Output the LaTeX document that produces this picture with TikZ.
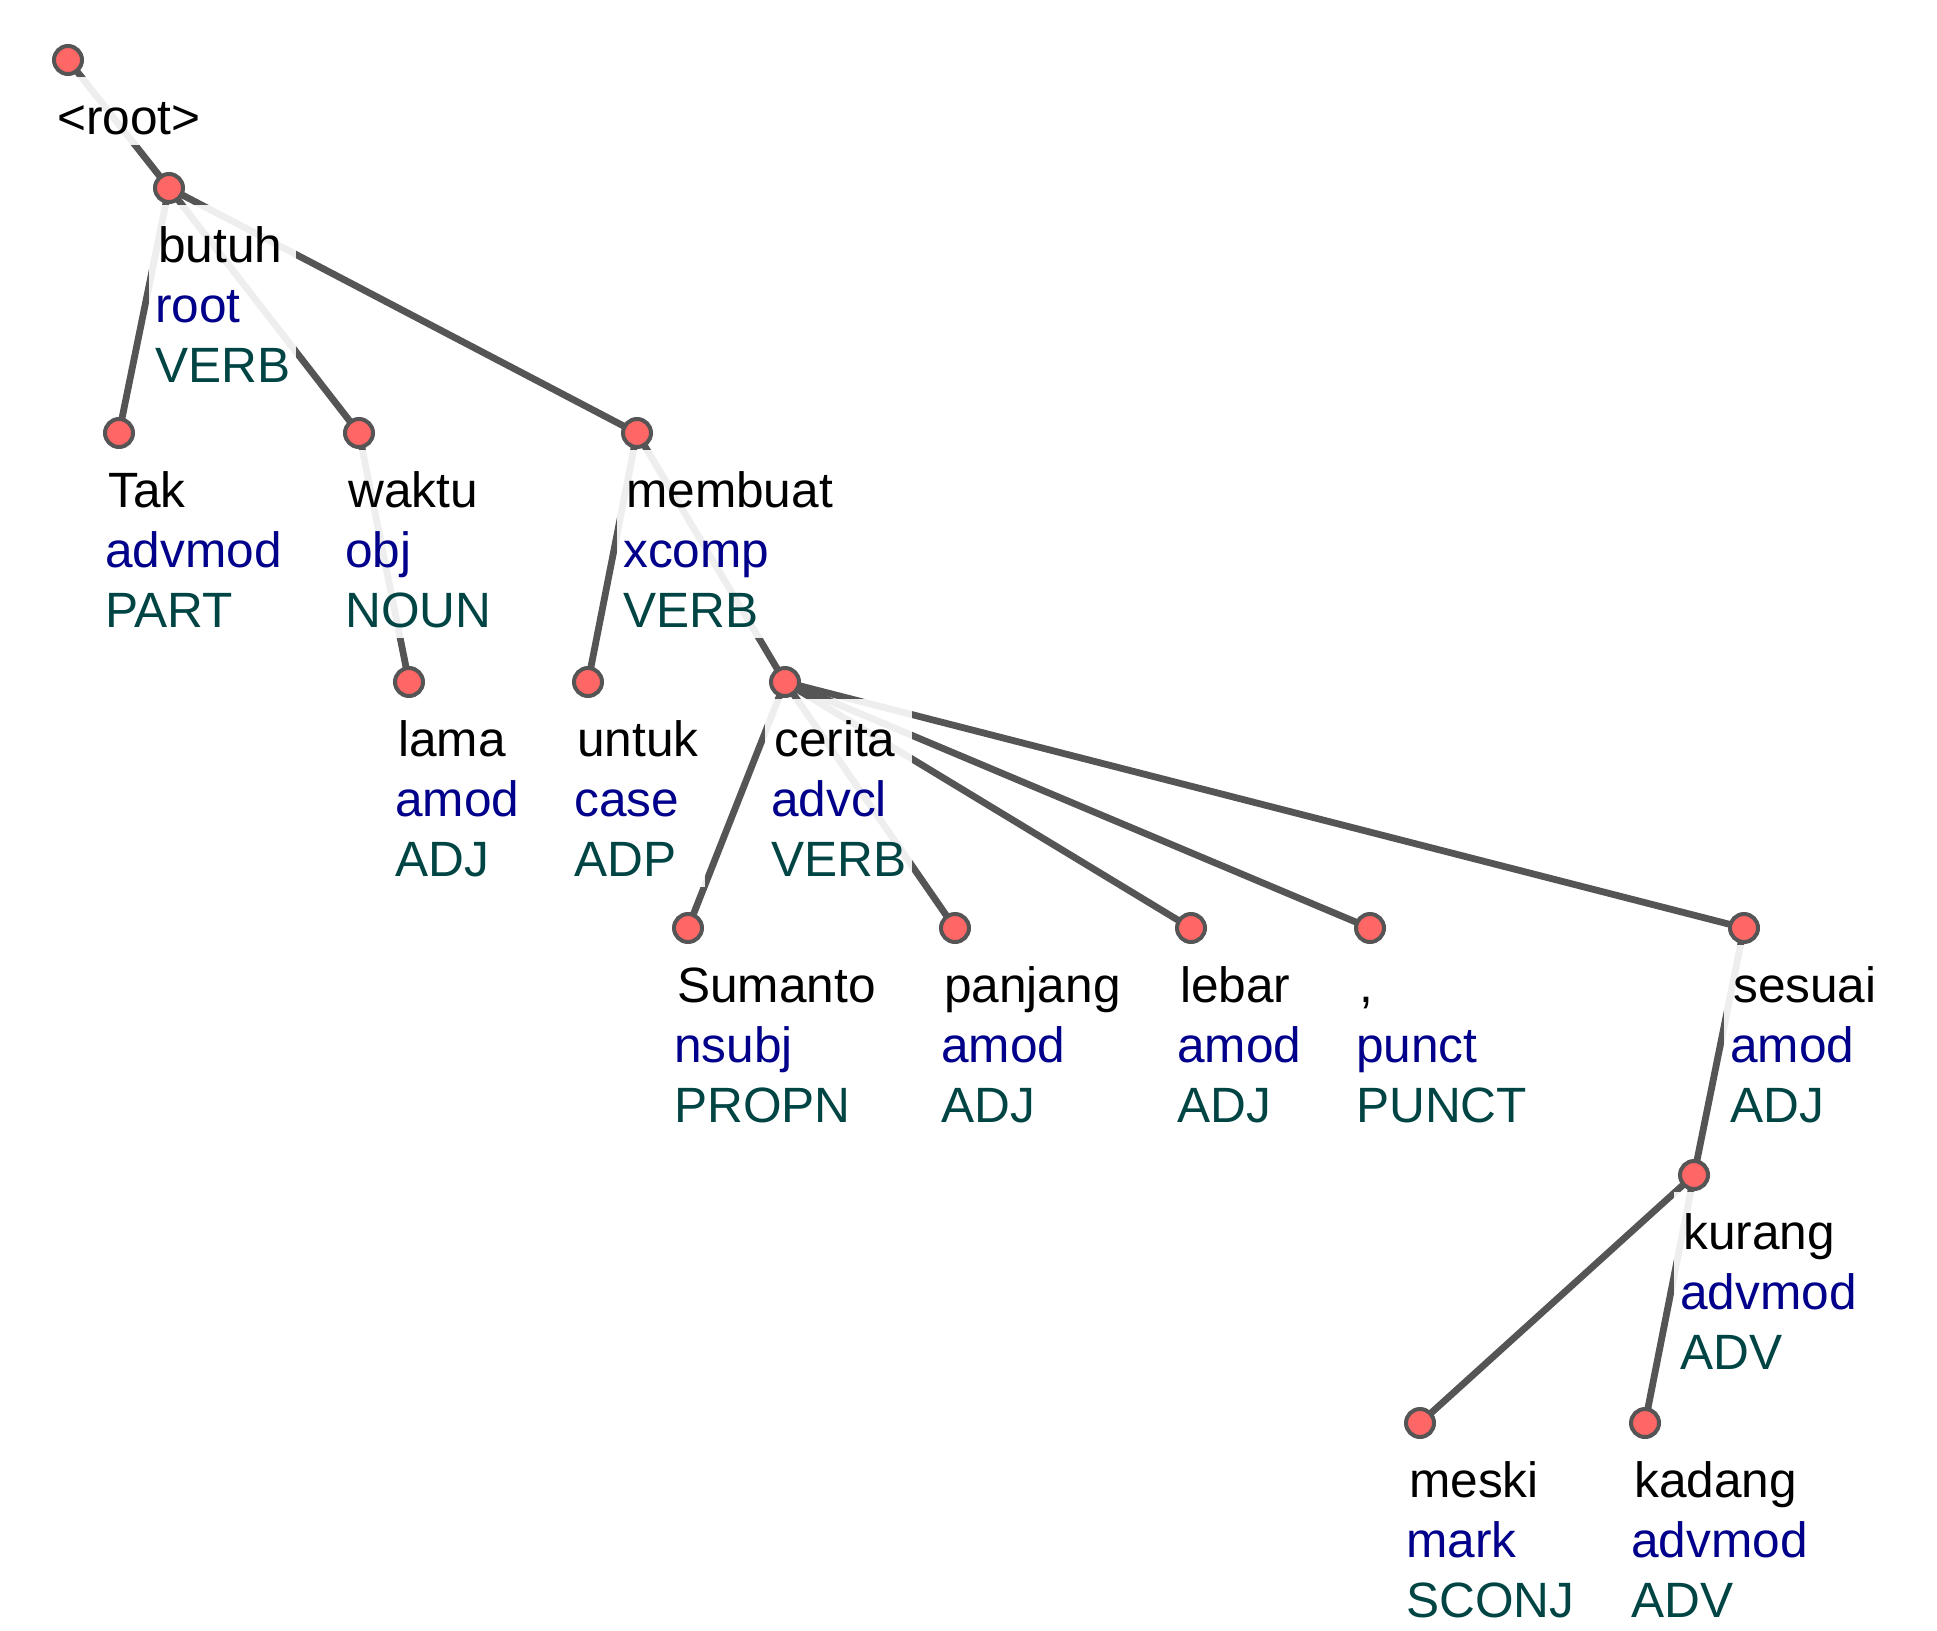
\documentclass[tikz,border=0pt]{standalone}
\usepackage{fontspec}
\setmainfont{Liberation Sans}
\pgfdeclarelayer{edgelayer}
\pgfdeclarelayer{labellayer}
\pgfsetlayers{edgelayer,labellayer,main}
\definecolor{relc}{HTML}{00008B}
\definecolor{posc}{HTML}{004444}
\definecolor{edgec}{HTML}{555555}
\definecolor{dotc}{HTML}{FF6666}
\newcommand{\wlabel}[3]{\rule{0pt}{57pt}\hspace{3pt}#1\\\textcolor{relc}{#2}\\\textcolor{posc}{#3}\rule[-11pt]{0pt}{11pt}}
\begin{document}
\begin{tikzpicture}[x=1pt,y=-1pt,
  dot/.style={circle,draw=edgec,fill=dotc,line width=4pt,minimum size=28pt,inner sep=0pt},
  lab/.style={anchor=north west,fill=white,fill opacity=0.9,text opacity=1,inner xsep=6pt,inner ysep=0pt,align=left,font=\fontsize{49.6}{60}\selectfont,xshift=-20pt,yshift=-17pt},
  link/.style={draw=edgec,line width=6.8pt}]
\useasboundingbox (0,0) rectangle (1937,1630);
% dots
\node[dot] (n0) at (68,60) {};
\node[dot] (n1) at (169,188) {};
\node[dot] (n2) at (119,433) {};
\node[dot] (n3) at (359,433) {};
\node[dot] (n4) at (637,433) {};
\node[dot] (n5) at (409,682) {};
\node[dot] (n6) at (588,682) {};
\node[dot] (n7) at (785,682) {};
\node[dot] (n8) at (688,928) {};
\node[dot] (n9) at (955,928) {};
\node[dot] (n10) at (1191,928) {};
\node[dot] (n11) at (1370,928) {};
\node[dot] (n12) at (1744,928) {};
\node[dot] (n13) at (1694,1175) {};
\node[dot] (n14) at (1420,1423) {};
\node[dot] (n15) at (1645,1423) {};
% labels
\begin{pgfonlayer}{labellayer}
\node[lab] (l0) at (n0.center) {\rule{0pt}{57pt}\hspace{3pt}<root>\rule[-11pt]{0pt}{11pt}};
\node[lab] (l1) at (n1.center) {\wlabel{butuh}{root}{VERB}};
\node[lab] (l2) at (n2.center) {\wlabel{Tak}{advmod}{PART}};
\node[lab] (l3) at (n3.center) {\wlabel{waktu}{obj}{NOUN}};
\node[lab] (l4) at (n4.center) {\wlabel{membuat}{xcomp}{VERB}};
\node[lab] (l5) at (n5.center) {\wlabel{lama}{amod}{ADJ}};
\node[lab] (l6) at (n6.center) {\wlabel{untuk}{case}{ADP}};
\node[lab] (l7) at (n7.center) {\wlabel{cerita}{advcl}{VERB}};
\node[lab] (l8) at (n8.center) {\wlabel{Sumanto}{nsubj}{PROPN}};
\node[lab] (l9) at (n9.center) {\wlabel{panjang}{amod}{ADJ}};
\node[lab] (l10) at (n10.center) {\wlabel{lebar}{amod}{ADJ}};
\node[lab] (l11) at (n11.center) {\wlabel{,}{punct}{PUNCT}};
\node[lab] (l12) at (n12.center) {\wlabel{sesuai}{amod}{ADJ}};
\node[lab] (l13) at (n13.center) {\wlabel{kurang}{advmod}{ADV}};
\node[lab] (l14) at (n14.center) {\wlabel{meski}{mark}{SCONJ}};
\node[lab] (l15) at (n15.center) {\wlabel{kadang}{advmod}{ADV}};
\end{pgfonlayer}
% edges
\begin{pgfonlayer}{edgelayer}
\draw[link] (n0.center) -- (n1.center);
\draw[link] (n1.center) -- (n2.center);
\draw[link] (n1.center) -- (n3.center);
\draw[link] (n1.center) -- (n4.center);
\draw[link] (n3.center) -- (n5.center);
\draw[link] (n4.center) -- (n6.center);
\draw[link] (n4.center) -- (n7.center);
\draw[link] (n7.center) -- (n8.center);
\draw[link] (n7.center) -- (n9.center);
\draw[link] (n7.center) -- (n10.center);
\draw[link] (n7.center) -- (n11.center);
\draw[link] (n7.center) -- (n12.center);
\draw[link] (n12.center) -- (n13.center);
\draw[link] (n13.center) -- (n14.center);
\draw[link] (n13.center) -- (n15.center);
\end{pgfonlayer}
\end{tikzpicture}
\end{document}
